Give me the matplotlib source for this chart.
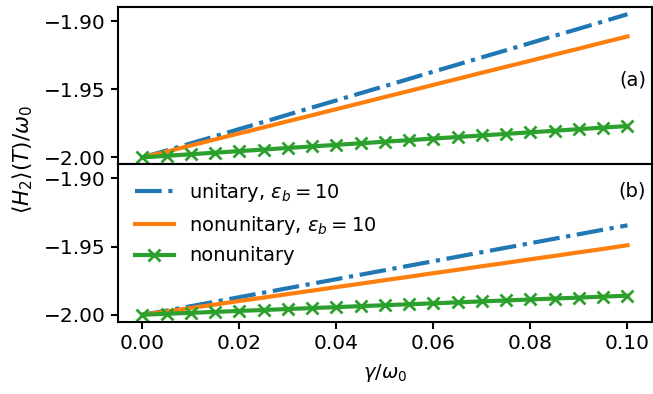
import numpy as np
import matplotlib.pyplot as plt

plt.rcParams['font.size'] = 14.5
plt.rcParams['mathtext.fontset'] = 'dejavusans'

gamma = [0.0, 0.005, 0.01, 0.015, 0.02, 0.025, 0.03, 0.035, 0.04, 0.045, 0.05,
         0.055, 0.06, 0.065, 0.07, 0.075, 0.08, 0.085, 0.09, 0.095, 0.1]

# (a)
unit_a = [-2.000, -1.9950, -1.9897, -1.9845, -1.9792, -1.9740, -1.9687, -1.9634, -1.9582,
          -1.9529, -1.9477, -1.9424, -1.9371, -1.9319, -1.9266, -1.9214, -1.9161, -1.9108,
          -1.9056, -1.9003, -1.8950]
nonu_a = [-2.000, -1.9958, -1.9913, -1.9868, -1.9824, -1.9780, -1.9735, -1.9691, -1.9646,
          -1.9602, -1.9557, -1.9513, -1.9468, -1.9424, -1.9379, -1.9335, -1.9291, -1.9246,
          -1.9202, -1.9157, -1.9113]
green_a = [-2.000, -1.9989, -1.9977, -1.9966, -1.9954, -1.9943, -1.9931, -1.9920, -1.9908,
           -1.9897, -1.9885, -1.9874, -1.9862, -1.9851, -1.9839, -1.9828, -1.9816, -1.9805,
           -1.9793, -1.9782, -1.9770]

# (b)
unit_b = [-2.000, -1.9970, -1.9937, -1.9904, -1.9871, -1.9838, -1.9805, -1.9772, -1.9739,
          -1.9706, -1.9673, -1.9640, -1.9607, -1.9574, -1.9541, -1.9508, -1.9475, -1.9442,
          -1.9409, -1.9376, -1.9344]
nonu_b = [-2.000, -1.9976, -1.9950, -1.9925, -1.9899, -1.9874, -1.9848, -1.9823, -1.9797,
          -1.9772, -1.9746, -1.9721, -1.9695, -1.9670, -1.9644, -1.9619, -1.9593, -1.9568,
          -1.9542, -1.9517, -1.9490]
green_b = [-2.000, -1.9993, -1.9986, -1.9979, -1.9972, -1.9965, -1.9958, -1.9951, -1.9944,
           -1.9937, -1.9930, -1.9923, -1.9916, -1.9909, -1.9902, -1.9895, -1.9888, -1.9881,
           -1.9874, -1.9867, -1.9860]

fig, (ax1, ax2) = plt.subplots(2, 1, sharex=True, sharey=True, figsize=(6.53, 3.94), dpi=100)
fig.subplots_adjust(left=0.181, right=0.998, top=0.982, bottom=0.183, hspace=0)

for ax, u, n, g in [(ax1, unit_a, nonu_a, green_a), (ax2, unit_b, nonu_b, green_b)]:
    ax.plot(gamma, u, '-.', color='C0', lw=3, label=r'unitary, $\varepsilon_b=10$')
    ax.plot(gamma, n, '-', color='C1', lw=3, label=r'nonunitary, $\varepsilon_b=10$')
    ax.plot(gamma, g, '-x', color='C2', lw=3, ms=9, mew=2, label='nonunitary')
    ax.set_yticks([-2.00, -1.95, -1.90])
    for s in ax.spines.values():
        s.set_linewidth(1.5)
    ax.tick_params(width=1.5, length=5, pad=4)

ax1.text(0.99, 0.535, '(a)', transform=ax1.transAxes, ha='right', va='center', fontsize=14)
ax2.text(0.99, 0.83, '(b)', transform=ax2.transAxes, ha='right', va='center', fontsize=14)
ax2.legend(loc='upper left', frameon=False, borderaxespad=0.45, handlelength=2.0, fontsize=14)
ax2.set_xticks([0.0, 0.02, 0.04, 0.06, 0.08, 0.10])
ax2.set_xlabel(r'$\gamma/\omega_0$', fontsize=14, labelpad=6)
fig.text(0.035, 0.595, r'$\langle H_2\rangle(T)/\omega_0$', rotation=90, ha='center', va='center', fontsize=15.5)

plt.savefig('out.png')
